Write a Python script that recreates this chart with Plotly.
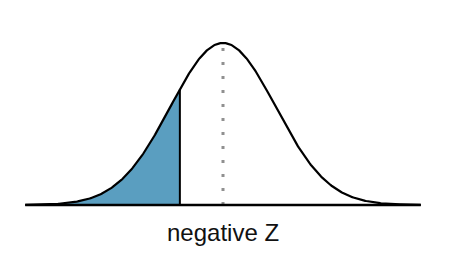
import numpy as np
import plotly.graph_objects as go

# Chart parameters (standard normal, left tail shaded)
mean = 0.0
sd = 1.0
z_cut = -0.82
x_limits = [-3.76, 3.76]
axis_label = "negative Z"
fill_color = "#5A9EC0"

xs = np.linspace(x_limits[0], x_limits[1], 400)
pdf = np.exp(-0.5 * ((xs - mean) / sd) ** 2) / (sd * np.sqrt(2 * np.pi))
xs_tail = xs[xs <= z_cut]
xs_tail = np.append(xs_tail, z_cut)
pdf_tail = np.exp(-0.5 * ((xs_tail - mean) / sd) ** 2) / (sd * np.sqrt(2 * np.pi))
peak = 1 / (sd * np.sqrt(2 * np.pi))
cut_h = np.exp(-0.5 * ((z_cut - mean) / sd) ** 2) / (sd * np.sqrt(2 * np.pi))

fig = go.Figure()
# shaded tail
fig.add_trace(go.Scatter(
    x=np.concatenate([xs_tail, [z_cut, xs_tail[0]]]),
    y=np.concatenate([pdf_tail, [0, 0]]),
    fill="toself", fillcolor=fill_color, line=dict(width=0),
    mode="lines", hoverinfo="skip"))
# mean dotted line
fig.add_trace(go.Scatter(
    x=[mean, mean], y=[0, peak], mode="lines",
    line=dict(color="#909090", width=3, dash="3px,11px"), hoverinfo="skip"))
# cut line
fig.add_trace(go.Scatter(
    x=[z_cut, z_cut], y=[0, cut_h], mode="lines",
    line=dict(color="black", width=2), hoverinfo="skip"))
# curve
fig.add_trace(go.Scatter(
    x=xs, y=pdf, mode="lines",
    line=dict(color="black", width=2.2), hoverinfo="skip"))
# baseline
fig.add_trace(go.Scatter(
    x=x_limits, y=[0, 0], mode="lines",
    line=dict(color="black", width=2.5), hoverinfo="skip"))

fig.add_annotation(x=mean, y=-0.067, text=axis_label, showarrow=False,
                   font=dict(family="Liberation Sans, Arial", size=24, color="#111111"),
                   xanchor="center", yanchor="middle")

px_per_sd = 52.6
fig.update_layout(
    width=473, height=256,
    margin=dict(l=0, r=0, t=0, b=0),
    paper_bgcolor="white", plot_bgcolor="white",
    showlegend=False,
    xaxis=dict(range=[(0 - 223) / px_per_sd, (473 - 223) / px_per_sd],
               visible=False, fixedrange=True),
    yaxis=dict(range=[-(256 - 205) / 406.1, 205 / 406.1],
               visible=False, fixedrange=True),
)
fig.write_html("out.html")
